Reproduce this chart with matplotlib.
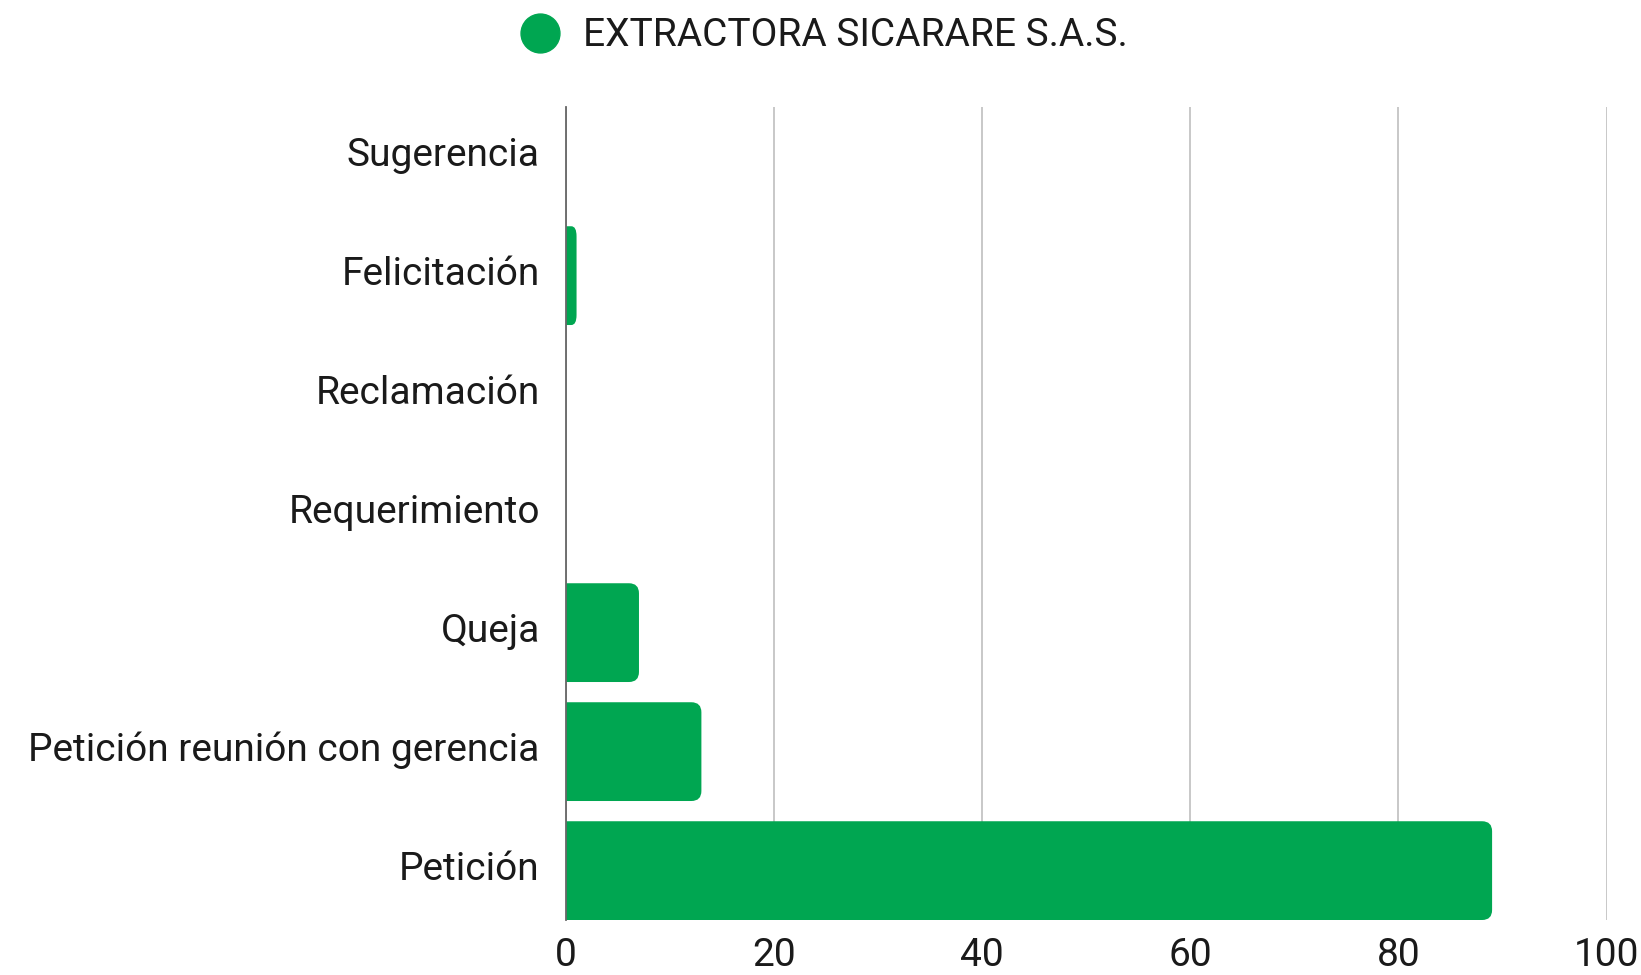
import matplotlib
matplotlib.use("Agg")
import matplotlib.pyplot as plt
from matplotlib.patches import PathPatch
from matplotlib.path import Path
from matplotlib.lines import Line2D
from matplotlib.transforms import ScaledTranslation

categories = ["Petición", "Petición reunión con gerencia", "Queja", "Requerimiento",
              "Reclamación", "Felicitación", "Sugerencia"]
values = [89, 13, 7, 0, 0, 1, 0]
series_name = "EXTRACTORA SICARARE S.A.S."
x_ticks = [0, 20, 40, 60, 80, 100]
color = "#00a651"

plt.rcParams['font.family'] = ['Roboto', 'DejaVu Sans']

fig = plt.figure(figsize=(16.41, 9.75), dpi=100)
ax = fig.add_axes([0.345, 0.0564, 0.979 - 0.345, 0.890 - 0.0564])

bar_h = 0.83
bars = ax.barh(range(len(categories)), values, height=bar_h, color=color)
ax.set_xlim(0, 100)
ax.set_ylim(-0.415, len(categories) - 1 + 0.415)

for b in bars:
    b.set_visible(False)
    x0, y0, w, h = b.get_x(), b.get_y(), b.get_width(), b.get_height()
    if w <= 0:
        continue
    rx = min(0.96, w / 2)
    ry = 0.084
    verts = [(x0, y0), (x0 + w - rx, y0), (x0 + w, y0), (x0 + w, y0 + ry),
             (x0 + w, y0 + h - ry), (x0 + w, y0 + h), (x0 + w - rx, y0 + h),
             (x0, y0 + h), (x0, y0)]
    codes = [Path.MOVETO, Path.LINETO, Path.CURVE3, Path.CURVE3,
             Path.LINETO, Path.CURVE3, Path.CURVE3, Path.LINETO, Path.CLOSEPOLY]
    ax.add_patch(PathPatch(Path(verts, codes), fc=color, ec="none", zorder=3))

ax.set_xticks(x_ticks)
ax.set_yticks(range(len(categories)))
ax.set_yticklabels(categories)
ax.xaxis.grid(True, color="#c4c4c4", linewidth=1.3, zorder=0)
ax.set_axisbelow(True)
for s in ["top", "right", "bottom"]:
    ax.spines[s].set_visible(False)
ax.spines["left"].set_color("#666666")
ax.spines["left"].set_linewidth(1.3)
ax.spines["left"].set_zorder(4)
ax.tick_params(axis="both", length=0, labelsize=28, colors="#1a1a1a")
ax.tick_params(axis="y", pad=19)
ax.tick_params(axis="x", pad=12)

shift = ScaledTranslation(0, 5 / 100, fig.dpi_scale_trans)
for lbl in ax.get_yticklabels():
    lbl.set_transform(lbl.get_transform() + shift)

handle = Line2D([], [], marker="o", linestyle="none", markersize=28,
                markerfacecolor=color, markeredgecolor=color)
fig.legend([handle], [series_name], loc="center", bbox_to_anchor=(0.4965, 1 - 36 / 975),
           frameon=False, fontsize=28, handletextpad=0.1, labelcolor="#1a1a1a")

fig.savefig("out.png", dpi=100)
